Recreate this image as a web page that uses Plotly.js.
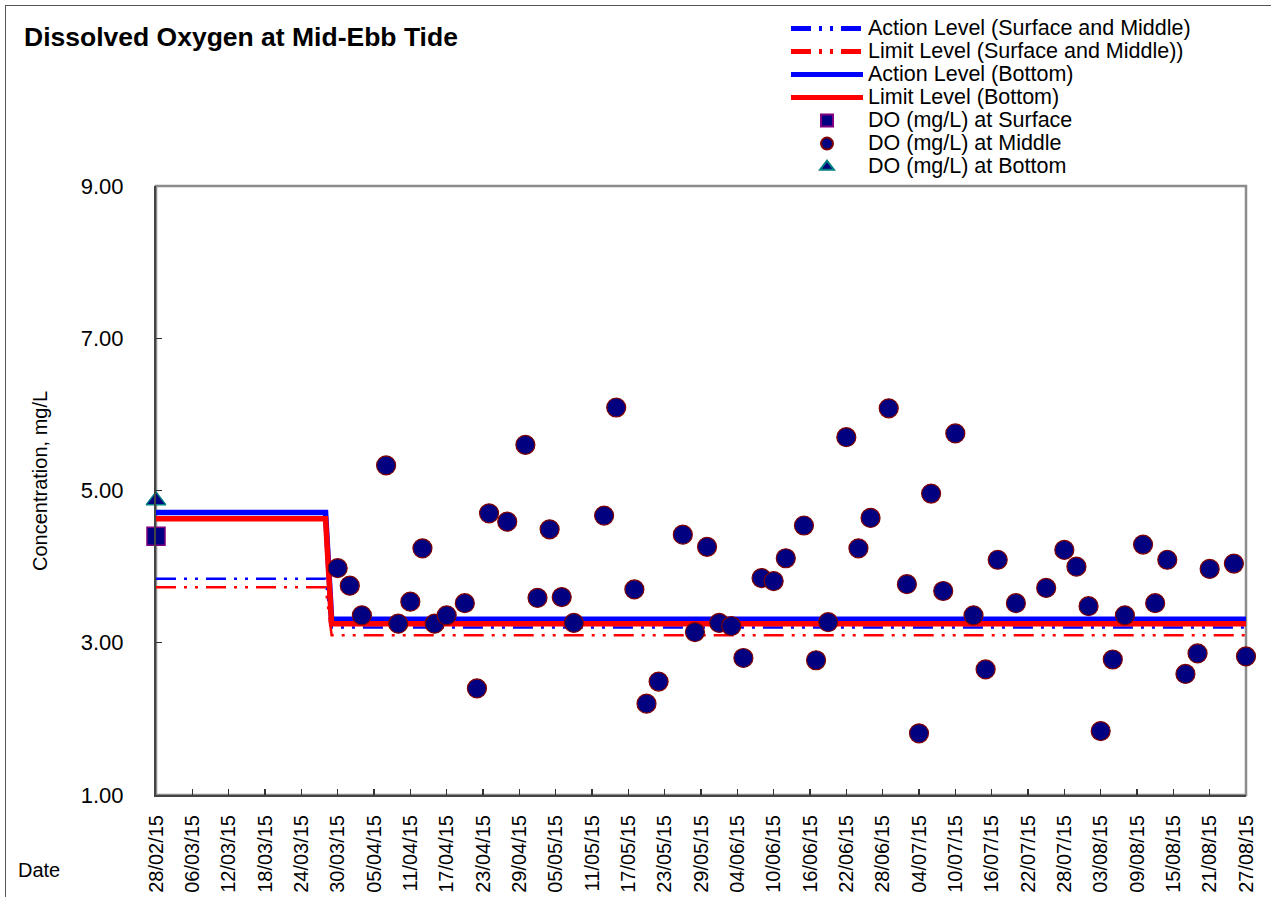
<!DOCTYPE html>
<html>
<head>
<meta charset="utf-8">
<script src="https://cdn.plot.ly/plotly-3.0.1.min.js"></script>
<style>
  html, body { margin: 0; padding: 0; background: #fff; }
  #chart { width: 1271px; height: 897px; }
  #frame { position: absolute; left: 5px; top: 5px; width: 1280px; height: 900px;
           border-left: 1px solid #555; border-top: 1px solid #555; pointer-events: none; }
</style>
</head>
<body>
<div id="chart"></div>
<div id="frame"></div>
<script>
// ---- data ----
const tickLabels = ["28/02/15","06/03/15","12/03/15","18/03/15","24/03/15","30/03/15","05/04/15","11/04/15",
  "17/04/15","23/04/15","29/04/15","05/05/15","11/05/15","17/05/15","23/05/15","29/05/15","04/06/15",
  "10/06/15","16/06/15","22/06/15","28/06/15","04/07/15","10/07/15","16/07/15","22/07/15","28/07/15",
  "03/08/15","09/08/15","15/08/15","21/08/15","27/08/15"];

const levelDates = ["2015-02-28","2015-03-28","2015-03-29","2015-08-27"];
const actionSM   = [3.84, 3.84, 3.20, 3.20];
const limitSM    = [3.73, 3.73, 3.10, 3.10];
const actionBot  = [4.71, 4.71, 3.31, 3.31];
const limitBot   = [4.63, 4.63, 3.25, 3.25];

const surfaceDates = ["2015-02-28"];
const surfaceDO    = [4.40];
const bottomDates  = ["2015-02-28"];
const bottomDO     = [4.87];

const middleDates = ["2015-03-30","2015-04-01","2015-04-03","2015-04-07","2015-04-09","2015-04-11","2015-04-13",
  "2015-04-15","2015-04-17","2015-04-20","2015-04-22","2015-04-24","2015-04-27","2015-04-30","2015-05-02",
  "2015-05-04","2015-05-06","2015-05-08","2015-05-13","2015-05-15","2015-05-18","2015-05-20","2015-05-22",
  "2015-05-26","2015-05-28","2015-05-30","2015-06-01","2015-06-03","2015-06-05","2015-06-08","2015-06-10",
  "2015-06-12","2015-06-15","2015-06-17","2015-06-19","2015-06-22","2015-06-24","2015-06-26","2015-06-29",
  "2015-07-02","2015-07-04","2015-07-06","2015-07-08","2015-07-10","2015-07-13","2015-07-15","2015-07-17",
  "2015-07-20","2015-07-25","2015-07-28","2015-07-30","2015-08-01","2015-08-03","2015-08-05","2015-08-07",
  "2015-08-10","2015-08-12","2015-08-14","2015-08-17","2015-08-19","2015-08-21","2015-08-25","2015-08-27"];
const middleDO = [3.98,3.75,3.36,5.33,3.25,3.54,4.24,3.25,3.36,3.52,2.40,4.70,4.59,5.60,3.59,4.49,3.60,3.26,
  4.67,6.09,3.70,2.20,2.49,4.42,3.14,4.26,3.26,3.22,2.80,3.85,3.81,4.11,4.54,2.77,3.27,5.70,4.24,4.64,6.08,
  3.77,1.81,4.96,3.68,5.75,3.36,2.65,4.09,3.52,3.72,4.22,4.00,3.48,1.84,2.78,3.36,4.29,3.52,4.09,2.59,2.86,
  3.97,4.04,2.82];

const seriesNames = ["Action Level (Surface and Middle)","Limit Level (Surface and Middle))",
  "Action Level (Bottom)","Limit Level (Bottom)","DO (mg/L) at Surface","DO (mg/L) at Middle","DO (mg/L) at Bottom"];

// ---- build ----
const tickVals = tickLabels.map(s => { const p = s.split("/"); return "20" + p[2] + "-" + p[1] + "-" + p[0]; });
const lname = s => '<span style="font-size:21.5px">' + s + '</span>';
const dashPat = "20px,8px,3px,8px,3px,8px";

const traces = [
  {x: levelDates, y: actionSM, name: lname(seriesNames[0]), mode: "lines",
   line: {color: "#0000FF", width: 2.5, dash: dashPat}},
  {x: levelDates, y: limitSM, name: lname(seriesNames[1]), mode: "lines",
   line: {color: "#FF0000", width: 2.5, dash: dashPat}},
  {x: levelDates, y: actionBot, name: lname(seriesNames[2]), mode: "lines",
   line: {color: "#0000FF", width: 5.5}},
  {x: levelDates, y: limitBot, name: lname(seriesNames[3]), mode: "lines",
   line: {color: "#FF0000", width: 5.5}},
  {x: surfaceDates, y: surfaceDO, name: lname(seriesNames[4]), mode: "markers", cliponaxis: false,
   marker: {symbol: "square", size: 18, color: "#000080", line: {color: "#800080", width: 1.5}}},
  {x: middleDates, y: middleDO, name: lname(seriesNames[5]), mode: "markers", cliponaxis: false,
   marker: {symbol: "circle", size: 19, color: "#000080", line: {color: "#800000", width: 1.2}}},
  {x: bottomDates, y: bottomDO, name: lname(seriesNames[6]), mode: "markers", cliponaxis: false,
   marker: {symbol: "triangle-up", size: 17, color: "#000080", line: {color: "#008080", width: 1.5}}}
];

const font = "Liberation Sans, Arial, sans-serif";
const layout = {
  width: 1271, height: 897,
  margin: {l: 156, r: 25, t: 186, b: 102},
  paper_bgcolor: "#fff", plot_bgcolor: "#fff",
  font: {family: font, color: "#000", size: 20},
  showlegend: true,
  title: {text: "Dissolved Oxygen at Mid-Ebb Tide", font: {family: font, size: 26.5, weight: "bold", color: "#000"},
          xref: "container", yref: "container", x: 24/1271, xanchor: "left", y: 1 - 37/897, yanchor: "middle"},
  legend: {x: (786-156)/1090, xanchor: "left", y: 1 + (795-12-609)/609, yanchor: "top",
           bgcolor: "rgba(0,0,0,0)", font: {family: font, size: 15.4, color: "#000"},
           itemwidth: 72, itemsizing: "constant", tracegroupgap: 0, traceorder: "normal"},
  xaxis: {type: "date", range: ["2015-02-28", "2015-08-27"], tickvals: tickVals, ticktext: tickLabels,
          tickangle: -90, tickfont: {family: font, size: 20, color: "#000"},
          ticks: "inside", ticklen: 6, tickwidth: 1.2, tickcolor: "#333",
          showline: true, linecolor: "#444", linewidth: 2, mirror: false,
          showgrid: false, zeroline: false, ticklabelstandoff: 10, fixedrange: true},
  yaxis: {range: [1, 9], tick0: 1, dtick: 2, tickformat: ".2f",
          tickfont: {family: font, size: 22, color: "#000"},
          ticks: "inside", ticklen: 6, tickwidth: 1.2, tickcolor: "#333",
          showline: true, linecolor: "#444", linewidth: 2, mirror: false,
          showgrid: false, zeroline: false, ticklabelstandoff: 26, fixedrange: true},
  shapes: [{type: "rect", xref: "paper", yref: "paper", x0: 0, x1: 1, y0: 0, y1: 1,
            line: {color: "#8c8c8c", width: 2.5}, layer: "below"}],
  annotations: [
    {text: "Concentration, mg/L", textangle: -90, xref: "paper", yref: "paper",
     x: (40-156)/1090, y: (795-481)/609, xanchor: "center", yanchor: "middle", showarrow: false,
     font: {family: font, size: 20, color: "#000"}},
    {text: "Date", xref: "paper", yref: "paper", x: (39-156)/1090, y: (795-870)/609,
     xanchor: "center", yanchor: "middle", showarrow: false, font: {family: font, size: 20, color: "#000"}}
  ]
};

Plotly.newPlot("chart", traces, layout, {displayModeBar: false, staticPlot: true});
</script>
</body>
</html>
